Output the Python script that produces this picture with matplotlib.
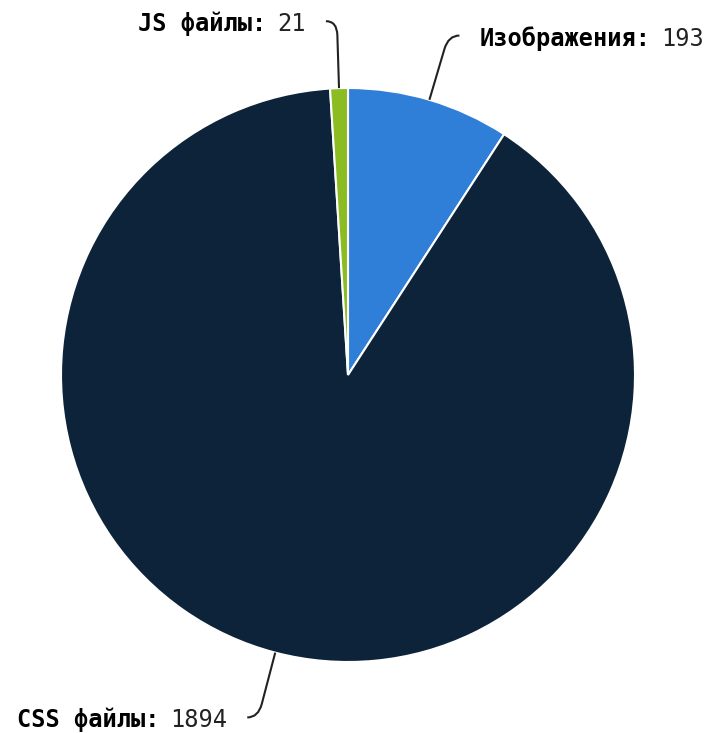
import numpy as np
import matplotlib
matplotlib.use("Agg")
import matplotlib.pyplot as plt
from matplotlib.path import Path
from matplotlib.patches import PathPatch

names = ["Изображения", "CSS файлы", "JS файлы"]
values = [193, 1894, 21]
colors = ["#2f7ed8", "#0d233a", "#8bbc21"]

W, H = 706, 733
cx, cy, R = 348, 358, 287
label_r = 354

fig = plt.figure(figsize=(W / 100, H / 100), dpi=100)
ax = fig.add_axes([0, 0, 1, 1])
wedges, _ = ax.pie(values, colors=colors, startangle=90, counterclock=False,
                   center=(cx, cy), radius=R,
                   wedgeprops=dict(edgecolor="white", linewidth=1.5))
ax.set_xlim(0, W)
ax.set_ylim(0, H)
ax.set_aspect("auto")
ax.axis("off")

fs = 17
for w, name, val in zip(wedges, names, values):
    mid = np.deg2rad((w.theta1 + w.theta2) / 2)
    d = np.array([np.cos(mid), np.sin(mid)])
    c = np.array([cx, cy])
    p0 = c + R * d
    corner = c + label_r * d
    side = 1 if d[0] >= 0 else -1
    p1 = corner - 14 * d
    end = corner + np.array([side * 11, 0])
    path = Path([p0, p1, corner, end],
                [Path.MOVETO, Path.LINETO, Path.CURVE3, Path.CURVE3])
    ax.add_patch(PathPatch(path, fill=False, edgecolor="#222222", linewidth=1.5))
    tx, ty = end[0] + side * 20, end[1] - 10
    if side > 0:
        t = ax.text(tx, ty, name + ":", ha="left", va="baseline",
                    family="DejaVu Sans Mono", fontweight="bold", fontsize=fs)
        ax.annotate(str(val), xy=(1, 0), xycoords=t, xytext=(8, 0),
                    textcoords="offset points", ha="left", va="bottom",
                    family="DejaVu Sans Mono", fontsize=fs, color="#222222")
    else:
        t = ax.text(tx, ty, str(val), ha="right", va="baseline",
                    family="DejaVu Sans Mono", fontsize=fs, color="#222222")
        ax.annotate(name + ":", xy=(0, 0), xycoords=t, xytext=(-8, 0),
                    textcoords="offset points", ha="right", va="bottom",
                    family="DejaVu Sans Mono", fontweight="bold", fontsize=fs)

fig.savefig("out.png", dpi=100)
